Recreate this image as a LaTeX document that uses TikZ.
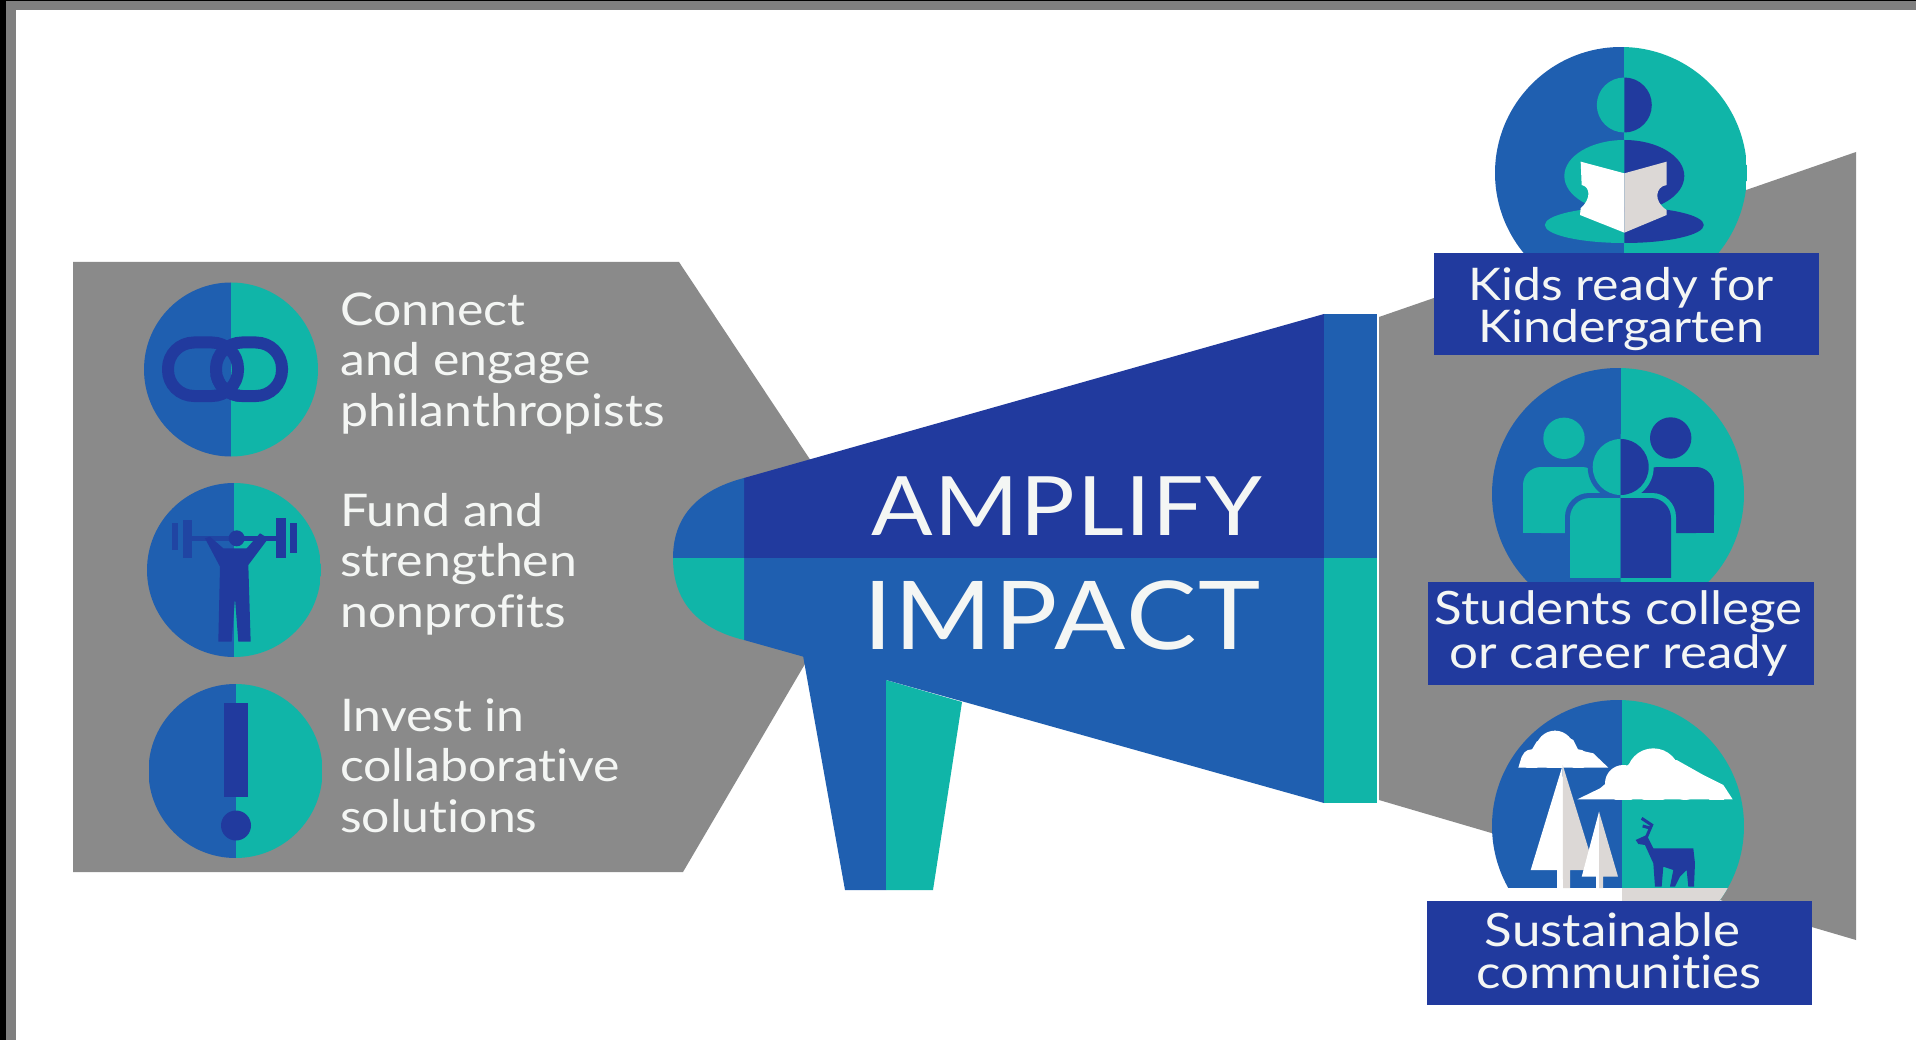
\documentclass[tikz,border=0pt]{standalone}
\usepackage{fontspec}
\setmainfont[FakeStretch=1.11,Ligatures=NoCommon]{Lato}
\definecolor{navyc}{HTML}{213A9E}
\definecolor{midc}{HTML}{1F5FB0}
\definecolor{tealc}{HTML}{10B5A8}
\definecolor{grayc}{HTML}{8A8A8A}
\definecolor{framec}{HTML}{7F7F7F}
\definecolor{inkc}{HTML}{F4F6F4}
\definecolor{shadec}{HTML}{DCD8D6}
\newcommand{\duo}[4]{%
  \begin{scope}
    \clip (#1,#2) circle[radius=#3];
    \fill[midc] ({#1-#3},{#2-#3}) rectangle (#4,{#2+#3});
    \fill[tealc] (#4,{#2-#3}) rectangle ({#1+#3},{#2+#3});
  \end{scope}}
\tikzset{
  lefttext/.style={anchor=base west,align=left,inner sep=0pt,text=inkc,font=\fontsize{45}{50.5}\selectfont},
  righttext/.style={anchor=base,align=center,inner sep=0pt,text=inkc,font=\fontsize{46}{42}\selectfont},
  link/.style={draw=navyc,line width=12pt,rounded corners=26pt},
}
\begin{document}
\begin{tikzpicture}[x=1pt,y=-1pt]
\useasboundingbox (0,0) rectangle (1916,1040);
\fill[white] (0,0) rectangle (1916,1040);
% frame
\fill[framec] (0,0) rectangle (1916,10);
\fill[framec] (0,0) rectangle (16,1040);
\fill[black] (0,0) rectangle (6,1040);
\fill[black] (0,0) rectangle (1916,1);
% grey fields
\fill[grayc] (73,262) -- (679,262) -- (880,565) -- (863,565) -- (683,872) -- (73,872) -- cycle;
\fill[grayc] (1379,317) -- (1856,152) -- (1856,940) -- (1379,800) -- cycle;
% megaphone
\fill[midc] (802,650) -- (845,890) -- (886,890) -- (886,670) -- cycle;
\fill[tealc] (886,680) -- (962,702) -- (933,890) -- (886,890) -- cycle;
\fill[navyc] (744,478) -- (1324,314) -- (1324,558) -- (744,558) -- cycle;
\fill[midc] (744,558) -- (1324,558) -- (1324,803) -- (744,640) -- cycle;
\fill[midc] (1324,314) rectangle (1377,558);
\fill[tealc] (1324,558) rectangle (1377,803);
\fill[midc] (744,478) .. controls (706,488) and (673,510) .. (673,558) -- (744,558) -- cycle;
\fill[tealc] (673,558) .. controls (673,606) and (703,630) .. (744,640) -- (744,558) -- cycle;
\node[anchor=base,inner sep=0pt,text=inkc,font=\fontsize{82}{82}\selectfont\addfontfeature{LetterSpace=2}] (amplify) at (1067,535) {AMPLIFY};
\node[anchor=base,inner sep=0pt,text=inkc,font=\fontsize{95}{95}\selectfont\addfontfeature{LetterSpace=2}] (impact) at (1062,649) {IMPACT};
% left circle 1 : chain
\duo{231}{369.5}{87}{231}
\draw[link] (216,342.5) rectangle (282,396);
\draw[link] (168,342.5) rectangle (238,396);
\begin{scope}
  \clip (205,375) rectangle (240,410);
  \draw[link] (216,342.5) rectangle (282,396);
\end{scope}
% left circle 2 : lifter
\duo{234}{570}{87}{234}
\begin{scope}[shift={(140,470)},x=0.3333pt,y=-0.3333pt]
  \fill[navyc!70!midc] (130,150) rectangle (155,265);
  \fill[navyc!70!midc] (97,160) rectangle (115,240);
  \fill[navyc] (408,145) rectangle (437,265);
  \fill[navyc] (450,160) rectangle (470,248);
  \fill[navyc!70!midc] (155,198) rectangle (280,212);
  \fill[navyc] (280,198) rectangle (408,212);
  \fill[navyc] (290,205) circle[radius=24];
  \fill[navyc] (195,205) -- (210,200) -- (250,235) -- (320,235) -- (360,190) -- (385,205) -- (325,285)
     -- (332,515) -- (295,515) -- (285,385) -- (275,515) -- (235,515) -- (240,290) -- cycle;
\end{scope}
% left circle 3 : exclamation
\duo{235.5}{771}{87}{235.6}
\fill[navyc] (224,703) rectangle (248,797);
\fill[navyc] (236,825.5) circle[radius=15];
% left texts
\node[lefttext] (t1) at (340,426) {Connect\\and engage\\philanthropists};
\node[lefttext] (t2) at (340,627) {Fund and\\strengthen\\nonprofits};
\node[lefttext] (t3) at (340,832) {Invest in\\collaborative\\solutions};
% right circle 1 : reader
\duo{1621}{173}{126}{1624.3}
\begin{scope}
  \clip (1500,40) rectangle (1624.3,260);
  \fill[tealc] (1624.3,105) circle[radius=27.5];
  \fill[tealc] (1624.3,176) ellipse[x radius=60,y radius=36];
  \fill[tealc] (1624.3,225) ellipse[x radius=79.5,y radius=18];
\end{scope}
\begin{scope}
  \clip (1624.3,40) rectangle (1750,260);
  \fill[navyc] (1624.3,105) circle[radius=27.5];
  \fill[navyc] (1624.3,176) ellipse[x radius=60,y radius=36];
  \fill[navyc] (1624.3,225) ellipse[x radius=79.5,y radius=18];
\end{scope}
\begin{scope}[shift={(1490,130)},x=0.3333pt,y=-0.3333pt]
  \fill[white] (272,95) -- (403,130) -- (403,308) -- (270,255) -- (272,235) .. controls (305,205) and (300,170) .. (275,165) -- cycle;
  \fill[shadec] (530,95) -- (403,130) -- (403,308) -- (530,255) -- (530,240) .. controls (490,215) and (495,170) .. (530,165) -- cycle;
\end{scope}
\fill[navyc] (1434,253) rectangle (1819,355);
\node[righttext,font=\fontsize{45}{42}\selectfont] (k) at (1621,342) {Kids ready for\\Kindergarten};
% right circle 2 : people
\duo{1618}{494}{126}{1620.7}
\fill[tealc] (1564,438.3) circle[radius=20.7];
\fill[navyc] (1670.7,438) circle[radius=20.7];
\fill[tealc,rounded corners=18pt] (1523,533) -- (1523,467) -- (1600,467) -- (1600,533) -- cycle;
\fill[tealc] (1523,515) rectangle (1600,533);
\fill[navyc,rounded corners=18pt] (1714,533) -- (1714,467) -- (1640,467) -- (1640,533) -- cycle;
\fill[navyc] (1640,515) rectangle (1714,533);
\begin{scope}
  \clip (1520,400) rectangle (1620.7,582);
  \fill[midc] (1620.7,467) circle[radius=33];
  \fill[midc,rounded corners=24pt] (1565,640) -- (1565,493) -- (1676,493) -- (1676,640) -- cycle;
  \begin{scope}
    \clip (1520,400) rectangle (1620.7,577);
    \fill[tealc] (1620.7,467) circle[radius=28];
    \fill[tealc,rounded corners=20pt] (1570,640) -- (1570,498) -- (1671,498) -- (1671,640) -- cycle;
  \end{scope}
\end{scope}
\begin{scope}
  \clip (1620.7,400) rectangle (1720,582);
  \fill[tealc] (1620.7,467) circle[radius=33];
  \fill[tealc,rounded corners=24pt] (1565,640) -- (1565,493) -- (1676,493) -- (1676,640) -- cycle;
  \begin{scope}
    \clip (1620.7,400) rectangle (1720,577);
    \fill[navyc] (1620.7,467) circle[radius=28];
    \fill[navyc,rounded corners=20pt] (1570,640) -- (1570,498) -- (1671,498) -- (1671,640) -- cycle;
  \end{scope}
\end{scope}
\fill[navyc] (1428,582) rectangle (1814,685);
\node[righttext,font=\fontsize{46}{41}\selectfont] (s) at (1618.5,668) {Students college\\or career ready};
% right circle 3 : landscape
\duo{1618}{826}{126}{1621.7}
\begin{scope}
  \clip (1618,826) circle[radius=126];
  \fill[shadec] (1621.7,888) rectangle (1750,901);
\end{scope}
\fill[white] (1490,888) -- (1490,901) -- (1621.7,901) -- (1621.7,888) -- cycle;
\begin{scope}[shift={(1490,720)},x=0.3333pt,y=-0.3333pt]
  \fill[white] (85,143) -- (95,110) -- (125,90) -- (140,65) -- (195,32) -- (250,60) -- (265,90) -- (310,100) -- (355,143) -- cycle;
  \begin{scope}
    \clip (60,0) rectangle (380,143);
    \fill[white] (195,90) circle[radius=58];
    \fill[white] (125,118) circle[radius=30];
    \fill[white] (265,118) circle[radius=30];
  \end{scope}
  \fill[white] (262,238) -- (330,205) -- (420,130) -- (560,120) -- (640,165) -- (700,195) -- (728,238) -- cycle;
  \begin{scope}
    \clip (240,60) rectangle (740,238);
    \fill[white] (490,165) circle[radius=80];
    \fill[white] (400,190) circle[radius=55];
    \fill[white] (585,195) circle[radius=45];
    \fill[white] (680,222) circle[radius=28];
  \end{scope}
\end{scope}
% trees
\fill[white] (1562.7,765) -- (1530.7,870) -- (1557,870) -- (1557,888) -- (1563,888) -- cycle;
\fill[shadec] (1562.7,765) -- (1563,888) -- (1570,888) -- (1570,870) -- (1595,870) -- cycle;
\fill[white] (1599,811.7) -- (1581.7,876.7) -- (1596,876.7) -- (1596,888) -- (1599,888) -- cycle;
\fill[shadec] (1599,811.7) -- (1599,888) -- (1603,888) -- (1603,876.7) -- (1618,876.7) -- cycle;
\begin{scope}[shift={(1490,720)},x=0.3333pt,y=-0.3333pt]
  \fill[navyc] (437,360) -- (470,345) -- (490,385) -- (610,385) -- (615,430) -- (612,500) -- (595,500) -- (590,450) -- (570,470) -- (555,500) -- (540,500) -- (550,450) -- (520,440) -- (515,500) -- (495,500) -- (490,430) -- (465,375) -- (445,372) -- cycle;
  \draw[navyc,line width=3pt] (470,350) -- (485,315) -- (455,295) (483,325) -- (458,318);
\end{scope}
\fill[navyc] (1427,901) rectangle (1812,1005);
\node[righttext] (c) at (1619,988) {Sustainable\hspace*{13pt}\\communities};
\end{tikzpicture}
\end{document}
